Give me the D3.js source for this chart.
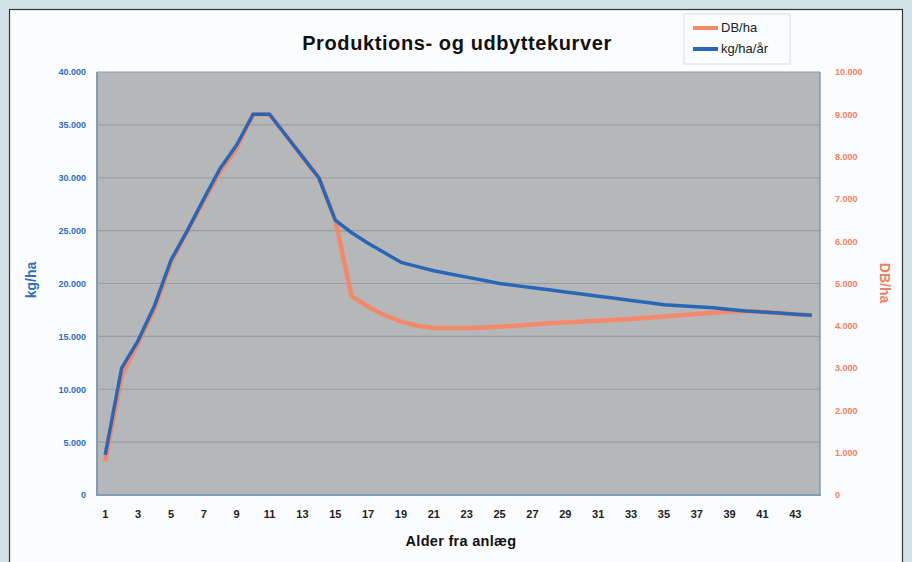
<!DOCTYPE html>
<html><head><meta charset="utf-8">
<script src="https://cdn.jsdelivr.net/npm/d3@7"></script>
<style>body{margin:0;background:#d4e3ea;}svg{display:block;font-family:"Liberation Sans",Arial,sans-serif;}</style>
</head><body>
<svg id="c" width="912" height="562"></svg>
<script>
const years = d3.range(1, 45);
const xTickLabels = d3.range(1, 44, 2);
const kgSeries = [3800,12000,14600,17900,22200,25000,28000,30900,33100,36000,36000,34000,32000,30000,26000,24800,23800,22900,22000,21600,21200,20900,20600,20300,20000,19800,19600,19400,19200,19000,18800,18600,18400,18200,18000,17900,17800,17700,17550,17400,17300,17200,17100,17000];
const dbSeries = [800,2800,3600,4400,5500,6250,6950,7650,8200,9000,9000,8500,8000,7500,6500,4700,4450,4250,4100,4000,3950,3950,3950,3960,3980,4000,4030,4060,4080,4100,4120,4140,4160,4190,4220,4250,4280,4310,4330,4350,4325,4300,4275,4250];
const leftTicks = [0,5000,10000,15000,20000,25000,30000,35000,40000];
const rightTicks = d3.range(0, 10001, 1000);
const fmt = v => v === 0 ? "0" : d3.format(",")(v).replace(/,/g, ".");

const svg = d3.select("#c");
svg.append("rect").attr("x",0).attr("y",0).attr("width",912).attr("height",562).attr("fill","#d4e3ea");
svg.append("rect").attr("x",9.5).attr("y",9.5).attr("width",893).attr("height",560).attr("fill","#fbfcfd").attr("stroke","#333").attr("stroke-width",1.2);

const L = 97, R = 820, T = 72, B = 495;
const x = d3.scaleBand().domain(years).range([L, R]).padding(0);
const cx = d => x(d) + x.bandwidth()/2;
const yL = d3.scaleLinear().domain([0, 40000]).range([B, T]);
const yR = d3.scaleLinear().domain([0, 10000]).range([B, T]);

svg.append("rect").attr("x",L).attr("y",T).attr("width",R-L).attr("height",B-T).attr("fill","#b5b7b9");
svg.append("g").selectAll("line").data(leftTicks.slice(1)).join("line")
  .attr("x1",L).attr("x2",R).attr("y1",d=>yL(d)).attr("y2",d=>yL(d))
  .attr("stroke","#989ca1").attr("stroke-width",1.2);
svg.append("line").attr("x1",L).attr("x2",L).attr("y1",T).attr("y2",B+1).attr("stroke","#7f9db3").attr("stroke-width",2);
svg.append("line").attr("x1",L).attr("x2",R+1).attr("y1",B).attr("y2",B).attr("stroke","#7f9db3").attr("stroke-width",2);
svg.append("line").attr("x1",R).attr("x2",R).attr("y1",T).attr("y2",B).attr("stroke","#7f9db3").attr("stroke-width",1.5);

const gl = svg.append("g").attr("transform",`translate(${L-8},0)`)
  .call(d3.axisLeft(yL).tickValues(leftTicks).tickFormat(fmt).tickSize(0));
gl.select(".domain").remove();
gl.selectAll("text").attr("fill","#2f6cc7").attr("font-size",9).attr("font-weight","bold");

const gr = svg.append("g").attr("transform",`translate(${R+12},0)`)
  .call(d3.axisRight(yR).tickValues(rightTicks).tickFormat(fmt).tickSize(0));
gr.select(".domain").remove();
gr.selectAll("text").attr("fill","#f0805f").attr("font-size",9).attr("font-weight","bold").attr("dx",0);

const gx = svg.append("g").attr("transform",`translate(0,${B+12})`)
  .call(d3.axisBottom(x).tickValues(xTickLabels).tickSize(0));
gx.select(".domain").remove();
gx.selectAll("text").attr("fill","#222").attr("font-size",11).attr("font-weight","bold");

const lineDB = d3.line().x((d,i)=>cx(years[i])).y(d=>yR(d));
const lineKg = d3.line().x((d,i)=>cx(years[i])).y(d=>yL(d));
svg.append("path").datum(dbSeries).attr("d",lineDB).attr("fill","none").attr("stroke","#f3896b").attr("stroke-width",4.5).attr("stroke-linejoin","round");
svg.append("path").datum(kgSeries).attr("d",lineKg).attr("fill","none").attr("stroke","#2767b8").attr("stroke-width",3.5).attr("stroke-linejoin","round");

svg.append("text").attr("x",457).attr("y",50).attr("text-anchor","middle").attr("font-size",20).attr("letter-spacing",0.6).attr("font-weight","bold").attr("fill","#111").text("Produktions- og udbyttekurver");
svg.append("text").attr("x",461).attr("y",546).attr("text-anchor","middle").attr("font-size",14.5).attr("letter-spacing",0.3).attr("font-weight","bold").attr("fill","#111").text("Alder fra anlæg");
svg.append("text").attr("transform","translate(36,280) rotate(-90)").attr("text-anchor","middle").attr("font-size",14).attr("font-weight","bold").attr("fill","#2f6cc7").text("kg/ha");
svg.append("text").attr("transform","translate(880,283) rotate(90)").attr("text-anchor","middle").attr("font-size",14).attr("font-weight","bold").attr("fill","#f0805f").text("DB/ha");

const lg = svg.append("g");
lg.append("rect").attr("x",684).attr("y",14).attr("width",106).attr("height",50).attr("fill","#fbfcfd").attr("stroke","#ddd");
const legItems = [["DB/ha","#f3896b"],["kg/ha/år","#2767b8"]];
legItems.forEach((d,i)=>{
  lg.append("line").attr("x1",693).attr("x2",718).attr("y1",28+i*21).attr("y2",28+i*21).attr("stroke",d[1]).attr("stroke-width",4);
  lg.append("text").attr("x",721).attr("y",32+i*21).attr("font-size",13).attr("fill","#222").text(d[0]);
});
</script>
</body></html>
